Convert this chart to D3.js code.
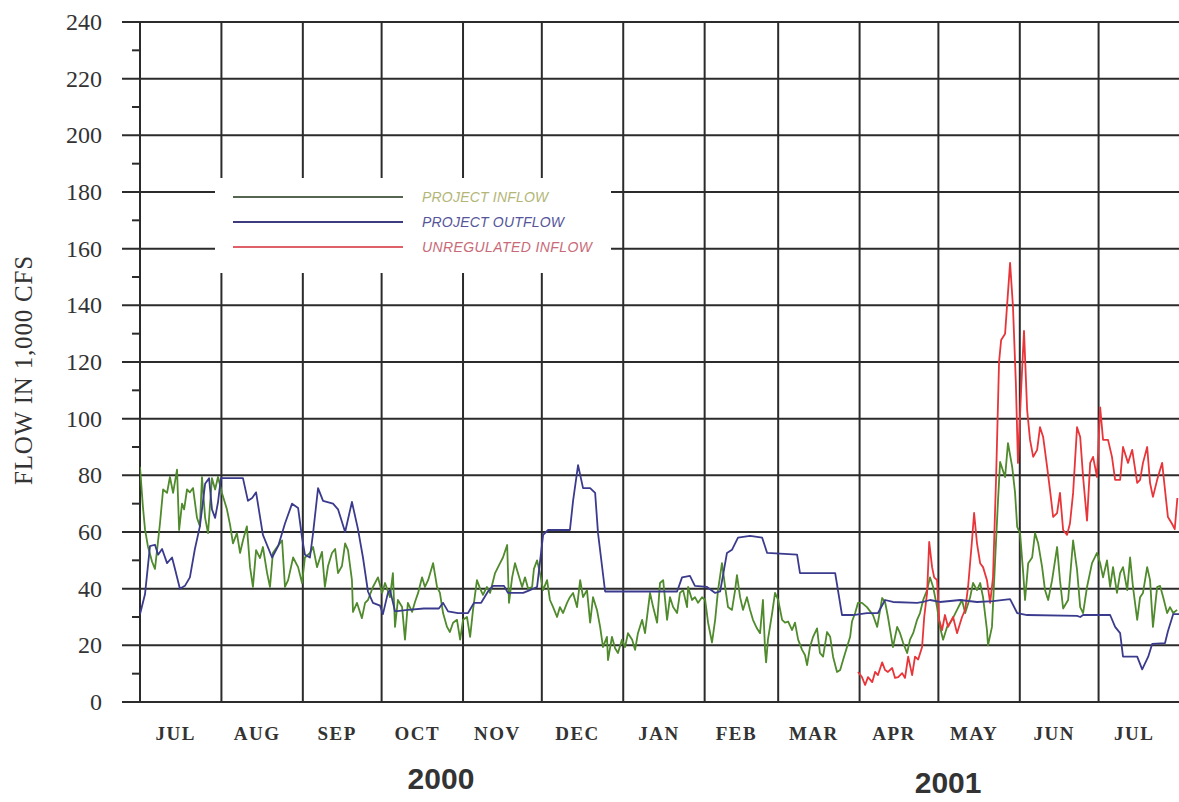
<!DOCTYPE html>
<html><head><meta charset="utf-8">
<script src="https://cdn.jsdelivr.net/npm/d3@7"></script>
<style>body{margin:0;background:#fff}svg{display:block}</style>
</head><body><svg id="c" width="1179" height="802"></svg>
<script>
// ---------- data ----------
const monthLabels = ["JUL","AUG","SEP","OCT","NOV","DEC","JAN","FEB","MAR","APR","MAY","JUN","JUL"];
const yearLabels = ["2000","2001"];
const yTickValues = [0,20,40,60,80,100,120,140,160,180,200,220,240];
const seriesNames = ["PROJECT INFLOW","PROJECT OUTFLOW","UNREGULATED INFLOW"];
const yAxisTitle = "FLOW IN 1,000 CFS";
const startDate = "2000-07-01";   // day 0 of the day offsets below
const endDate = "2001-08-01";

// Project inflow (day offset from startDate, 1,000 cfs)
const inflowDay = [0,1.1,1.9,3.0,4.6,5.7,6.5,7.6,8.8,10.3,11.4,12.6,14.1,14.9,16.0,16.8,17.9,19.0,20.2,21.7,22.8,23.6,24.8,25.9,27.4,28.6,29.7,31.2,33.1,34.3,35.4,36.9,38.1,39.2,40.7,41.9,43.0,44.2,45.7,46.8,48.4,49.5,50.6,52.2,54.1,55.2,56.4,58.3,60.2,61.7,62.8,64.7,65.9,67.4,69.3,70.4,71.6,73.1,74.3,75.4,76.9,78.1,79.2,80.7,81.1,82.6,84.5,85.7,86.8,88.7,90.6,92.2,93.3,95.2,96.3,97.1,98.2,99.8,100.9,102.0,103.6,104.7,105.9,107.4,108.5,109.7,111.6,113.1,114.2,115.4,116.9,118.0,119.2,120.7,121.9,123.0,124.5,125.7,126.8,128.3,129.5,130.6,132.1,133.3,135.2,137.1,138.2,139.8,140.5,141.7,142.8,143.9,145.5,146.6,147.8,149.3,150.0,151.2,152.3,153.5,155.0,156.1,157.3,158.8,159.9,161.1,162.6,163.7,164.9,166.4,167.6,168.7,170.2,171.4,172.5,174.0,175.2,176.3,177.8,178.2,179.7,180.9,182.0,183.5,184.7,185.8,187.4,188.5,189.6,191.2,192.3,194.2,195.4,196.9,198.0,199.2,200.7,201.8,203.0,204.5,205.6,206.8,208.3,208.7,210.2,211.3,212.5,214.0,215.2,216.3,217.8,219.0,220.1,221.6,222.8,223.9,225.4,226.6,227.3,228.5,229.6,231.1,232.3,233.4,234.9,236.1,237.2,238.0,238.4,239.1,240.7,241.8,243.0,244.5,245.6,246.8,248.3,249.4,250.6,252.1,253.2,254.0,255.1,256.3,257.8,258.9,260.1,261.6,262.8,263.9,265.4,266.6,267.7,269.2,270.4,271.1,272.3,273.4,274.9,276.8,279.1,280.7,282.6,283.7,284.8,286.7,288.3,289.4,290.6,292.1,293.2,294.4,295.9,297.0,298.2,299.7,300.8,302.0,303.5,304.6,305.8,307.3,309.2,311.1,313.0,314.2,316.1,317.2,318.7,319.9,321.0,322.5,322.9,324.4,325.6,326.7,327.5,329.4,330.5,332.1,333.2,334.0,335.1,336.3,337.0,338.2,339.7,340.8,342.0,343.5,344.6,345.8,347.3,349.2,350.3,351.5,353.4,355.3,356.8,358.0,359.1,360.6,362.5,364.4,365.6,366.7,368.2,369.4,370.5,372.0,373.2,374.3,375.9,377.0,378.1,379.7,380.8,381.9,383.5,384.6,385.7,387.3,388.4,389.6,391.1,392.2,393.4,394.9];
const inflowKcfs = [83,69,61,55,49.5,47,53.6,63,75,73.8,79.4,73.8,82,60.7,70,68,75,74,75.5,65,62,79.4,65,59.6,79,75,79.4,73.8,68,62.5,56,59.6,52.6,57,62,47.6,40.6,53.6,50.8,54.7,45.5,40.6,52.6,54.7,57,40.6,43,51,47.6,42,51,52.6,54.7,47.6,53,40.6,48,52.6,54,45.5,48,56,53.6,43,31.8,35,29.6,35,36,40.6,44,38.5,42,37,45.5,26.5,36,33.5,22,35,31.8,35.3,38.5,44,40.6,43,49,40.6,38.5,31.4,26.5,24.7,28,29,22,29,30,23,32.5,43,40,37.8,40.6,38.5,45.5,49,51,55.4,35,44,49,45.5,40.6,44,40,40.6,47,50,45.5,39.5,43,36,33.5,30,33.5,31.4,35,37,38.5,33.5,43,37,39.5,28,37,32.5,26.5,19.4,23,14.8,23,19,17.3,22,19.4,24.3,22,18.4,24.3,29,24.3,38.5,33.5,28,42,43,29,37,33.5,31.4,38.5,39.5,33.5,40.6,36,37,35,37,36,28,21,29,39.5,49,40.6,33.5,32.5,39.5,44.8,37,32.5,37,32.5,29,26,24.3,36,18.4,14,22,31.4,38.5,36,29,28,28.4,25.4,28,22,18.4,16.6,13,19.4,23,26,17.3,16,24.7,23,16,10.6,11.3,14.8,19.4,23,28.4,31.4,35,35,33.5,30.7,26.5,36.7,35.3,30,19.4,26.5,24.3,20.8,17.3,22,24.3,29,31.4,36,39.5,44,40.6,33.5,26.5,22,26.5,29,32.5,36,31.4,37,42,39.5,42,37,25.4,20,26.5,50,71,84.7,79.4,91.4,83,73.8,61.8,59.6,45.5,36,49,51,59.6,56,47.6,39.5,36,43,54.7,43,33,36,57,46.6,33.5,31.4,40.6,49,52.6,49,44,50,40.6,47.6,38.5,45.5,47.6,39.5,51,40.6,29,37,38.5,47.6,43,26.5,40.6,41,37,31.4,33.5,31.4,32.5];

// Project outflow
const outflowDay = [0,1.9,3.8,5.7,6.9,8.4,10.3,12.2,13.3,15.2,17.1,19.0,20.9,22.8,24.8,26.3,27.4,28.6,29.7,30.8,34.3,39.2,41.1,42.7,44.2,46.8,50.3,52.6,55.2,57.9,60.2,61.7,62.8,64.7,65.9,67.8,69.7,73.5,75.4,78.1,80.7,83.0,84.9,86.8,88.7,91.4,92.5,94.4,95.2,97.1,102.0,108.1,113.8,115.4,117.3,121.1,124.9,127.2,129.9,132.5,134.4,138.6,140.1,145.9,148.5,151.2,153.5,155.4,158.0,163.7,164.9,166.8,168.7,171.4,173.3,174.4,177.1,197.3,204.5,206.4,209.4,211.3,215.9,219.0,220.9,223.5,225.4,227.7,232.3,236.9,238.8,250.2,251.3,264.7,267.3,271.5,276.8,281.0,283.7,286.7,295.9,298.2,300.8,304.6,312.3,318.7,324.8,331.3,334.0,337.8,356.8,358.0,359.1,369.4,371.3,373.2,374.3,379.7,381.6,383.9,385.4,390.3,391.4,393.4,395.7];
const outflowKcfs = [31,38,55,55.5,52,54,49,51,47,40,41,44,54,62,77,79,68,65,70.5,79,79,79,71,72,74,59,51,55,63,70,68.5,58,52,51,59.6,75.5,71,70,68,60,70.6,61,51,39,35,34,31,38.5,39.5,32,32.5,33,33,35,32,31.4,31.4,35,35,39,41,41,38.5,38.5,39.5,40.6,59,60.7,60.7,60.7,71,83.6,75.5,75.5,73.8,59.6,39,39,39,44,44.5,41,40.6,38.5,39,52.6,53.7,58,58.6,58,52.6,52,45.5,45.5,30.7,30.7,31.4,31.4,36,35.3,35,35.3,36,35.3,36,35.3,35.6,36.3,31.4,30.7,30.4,30,30.7,30.7,26.5,24.3,16,16,11.5,16,20.5,20.8,25,31,31];

// Unregulated inflow
const unregDay = [273.4,274.9,276.1,277.2,278.8,279.9,281.0,282.6,283.7,284.8,286.4,287.5,288.7,290.2,291.3,292.5,294.0,295.1,296.3,297.8,298.6,299.7,300.5,301.6,302.4,303.5,304.3,305.4,306.5,307.7,309.6,311.1,313.0,314.2,315.3,316.8,317.6,318.7,319.9,321.0,322.5,323.7,324.8,326.0,327.1,327.9,329.4,331.3,332.4,333.5,334.3,335.5,336.6,337.8,338.9,340.1,341.6,342.7,343.9,345.4,346.5,347.7,349.2,350.3,351.5,353.0,354.1,355.3,356.8,358.0,359.1,360.6,361.8,362.9,364.4,365.6,366.7,368.6,370.1,371.3,373.2,374.3,376.2,377.8,379.7,380.8,381.9,383.5,384.6,385.7,387.3,389.2,390.3,391.4,392.9,394.0,395.0];
const unregKcfs = [10.6,8.8,6,8.8,7,10.6,9.5,14,11.3,10.6,12,8.5,8.8,10.2,8.5,16,9.5,16,15,19.4,30,38.5,56.5,47.6,44,43,29,25.4,30.7,26.5,30,24.3,30,32.5,40.6,57,66.7,56,49,47.6,43,35,44,80,120,127.8,130,155,139.5,112.6,84.4,110,131,103,92.5,86.5,89,97,93.5,83,74.8,65.3,66.7,73.8,60.7,59,63,73.8,97,93.5,79.4,64,84.4,86.5,79.4,104,92.5,92.5,86.5,78.4,78.4,90,84.4,89,77.3,78.4,84.4,90,77.3,72.4,78.4,84.4,74.8,65.3,63,61,72];

// ---------- drawing ----------
const plot = {left: 140, right: 1180, top: 22, bottom: 702};
const svg = d3.select("#c");
const t0 = new Date(startDate + "T00:00:00Z");
const t1 = new Date(endDate + "T00:00:00Z");
const dayToDate = d => new Date(t0.getTime() + d * 864e5);

const x = d3.scaleUtc().domain([t0, t1]).range([plot.left, plot.right]);
const y = d3.scaleLinear().domain([0, 240]).range([plot.bottom, plot.top]);

const gridColor = "#2b2b2b";
const textColor = "#333";
const serif = "Liberation Serif, Times New Roman, serif";
const sans = "Liberation Sans, Arial, sans-serif";

// horizontal gridlines
svg.append("g").selectAll("line").data(yTickValues).join("line")
  .attr("x1", 122).attr("x2", plot.right)
  .attr("y1", d => y(d)).attr("y2", d => y(d))
  .attr("stroke", gridColor).attr("stroke-width", 2);

// minor ticks
svg.append("g").selectAll("line").data(d3.range(10, 240, 20)).join("line")
  .attr("x1", 132).attr("x2", plot.left)
  .attr("y1", d => y(d)).attr("y2", d => y(d))
  .attr("stroke", gridColor).attr("stroke-width", 2);

// vertical month gridlines
const months = d3.utcMonth.range(t0, t1);
svg.append("g").selectAll("line").data(months).join("line")
  .attr("x1", d => x(d)).attr("x2", d => x(d))
  .attr("y1", plot.top - 1).attr("y2", plot.bottom)
  .attr("stroke", gridColor).attr("stroke-width", 2);

// y tick labels
svg.append("g").selectAll("text").data(yTickValues).join("text")
  .attr("x", 102).attr("y", d => y(d) + 8)
  .attr("text-anchor", "end")
  .attr("font-family", serif)
  .attr("font-size", 24).attr("fill", textColor)
  .text(d => d);

// y axis title
svg.append("text")
  .attr("transform", "translate(32,370) rotate(-90)")
  .attr("text-anchor", "middle")
  .attr("font-family", serif)
  .attr("font-size", 25).attr("letter-spacing", 0.8).attr("fill", textColor)
  .text(yAxisTitle);

// month labels
svg.append("g").selectAll("text").data(months).join("text")
  .attr("x", d => (x(d) + x(d3.utcMonth.offset(d, 1))) / 2 - 5)
  .attr("y", 740)
  .attr("text-anchor", "middle")
  .attr("font-family", serif)
  .attr("font-weight", "bold").attr("font-size", 19).attr("letter-spacing", 1.5)
  .attr("fill", textColor)
  .text((d, i) => monthLabels[i]);

// year labels
const yearPos = [[dayToDate(114.6), 789], [dayToDate(307.7), 793]];
svg.append("g").selectAll("text").data(yearLabels).join("text")
  .attr("x", (d, i) => x(yearPos[i][0]))
  .attr("y", (d, i) => yearPos[i][1])
  .attr("text-anchor", "middle")
  .attr("font-family", sans)
  .attr("font-weight", "bold").attr("font-size", 30)
  .attr("fill", textColor)
  .text(d => d);

// legend (white box over grid)
svg.append("rect").attr("x", 215).attr("y", 178).attr("width", 396).attr("height", 95).attr("fill", "#fff");

const lineColors = ["#4f8a2c", "#3b3b8e", "#e8353a"];
const legendLineColors = ["#556650", "#3b3b7e", "#e0606a"];
const legendTextColors = ["#b3b677", "#55559a", "#c86a78"];
const lg = svg.append("g");
seriesNames.forEach((name, i) => {
  const ly = 197 + i * 25;
  lg.append("line").attr("x1", 233).attr("x2", 403).attr("y1", ly).attr("y2", ly)
    .attr("stroke", legendLineColors[i]).attr("stroke-width", 2);
  lg.append("text").attr("x", 422).attr("y", ly + 5)
    .attr("font-family", sans)
    .attr("font-style", "italic").attr("font-size", 14)
    .attr("letter-spacing", i === 2 ? 0.4 : 0.2)
    .attr("fill", legendTextColors[i])
    .text(name);
});

// series
svg.append("clipPath").attr("id", "pc").append("rect")
  .attr("x", plot.left).attr("y", plot.top - 2)
  .attr("width", plot.right - plot.left).attr("height", plot.bottom - plot.top + 2);

const line = d3.line().x(d => x(dayToDate(d[0]))).y(d => y(d[1]));
const series = [
  {days: inflowDay, vals: inflowKcfs, color: lineColors[0]},
  {days: unregDay, vals: unregKcfs, color: lineColors[2]},
  {days: outflowDay, vals: outflowKcfs, color: lineColors[1]}
];
const sg = svg.append("g").attr("clip-path", "url(#pc)");
series.forEach(s => {
  sg.append("path")
    .datum(s.days.map((d, i) => [d, s.vals[i]]))
    .attr("d", line)
    .attr("fill", "none")
    .attr("stroke", s.color)
    .attr("stroke-width", 1.8)
    .attr("stroke-linejoin", "round");
});
</script>
</body></html>
